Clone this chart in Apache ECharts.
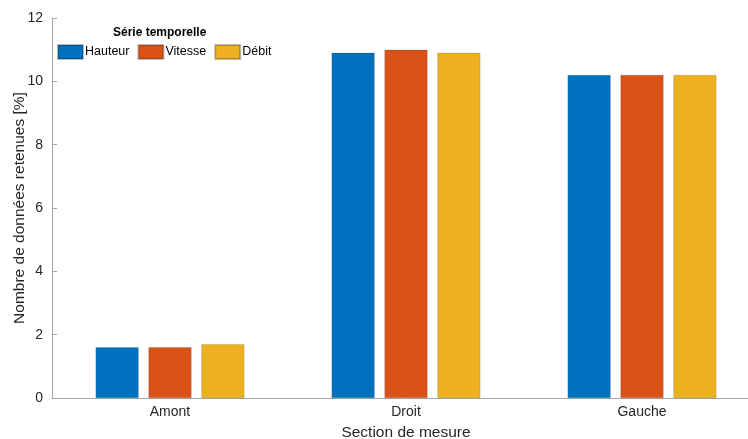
<!DOCTYPE html>
<html><head><meta charset="utf-8">
<script src="https://cdn.jsdelivr.net/npm/echarts@6/dist/echarts.min.js"></script>
<style>html,body{margin:0;padding:0;background:#fff}#c{width:748px;height:439px}</style>
</head><body><div id="c"></div>
<script>
const categories = ['Amont', 'Droit', 'Gauche'];
const seriesNames = ['Hauteur', 'Vitesse', 'Débit'];
const hauteur = [1.6, 10.9, 10.2];
const vitesse = [1.6, 11.0, 10.2];
const debit = [1.7, 10.9, 10.2];
const yTicks = [0, 2, 4, 6, 8, 10, 12];
const colors = ['#0072BD', '#D95319', '#EDB120'];
const values = [hauteur, vitesse, debit];
const font = "'Liberation Sans', Arial, sans-serif";

const chart = echarts.init(document.getElementById('c'));
chart.setOption({
  animation: false,
  textStyle: { fontFamily: font },
  title: {
    text: 'Série temporelle', left: 113, top: 27, padding: 0,
    textStyle: { fontFamily: font, fontSize: 12, fontWeight: 'bold', color: '#000' }
  },
  legend: {
    data: seriesNames, left: 57, top: 44, orient: 'horizontal', padding: 0,
    itemWidth: 25, itemHeight: 14, itemGap: 8,
    icon: 'rect',
    textStyle: { fontFamily: font, fontSize: 12.5, color: '#000', padding: [0, 0, 0, -3] }
  },
  grid: { left: 52, right: -12, top: 18, bottom: 41, outerBoundsMode: 'none', containLabel: false },
  xAxis: {
    type: 'category', data: categories,
    name: 'Section de mesure', nameLocation: 'middle', nameGap: 27, nameMoveOverlap: false,
    nameTextStyle: { fontSize: 15.5, color: '#262626', fontFamily: font },
    axisLine: { lineStyle: { color: '#a6a6a6' } },
    axisTick: { inside: true, alignWithLabel: true, length: 5, lineStyle: { color: '#a6a6a6' } },
    axisLabel: { fontSize: 14, color: '#262626', margin: 7, fontFamily: font }
  },
  yAxis: {
    type: 'value', min: yTicks[0], max: yTicks[yTicks.length - 1], interval: 2,
    name: 'Nombre de données retenues [%]', nameLocation: 'middle', nameGap: 24, nameMoveOverlap: false,
    nameTextStyle: { fontSize: 15.5, color: '#262626', fontFamily: font },
    axisLine: { show: true, lineStyle: { color: '#a6a6a6' } },
    axisTick: { show: true, inside: true, length: 5, lineStyle: { color: '#a6a6a6' } },
    splitLine: { show: false },
    axisLabel: { fontSize: 14, color: '#262626', margin: 9, fontFamily: font }
  },
  series: seriesNames.map((n, i) => ({
    name: n, type: 'bar', data: values[i],
    barWidth: 43, barGap: '23%',
    itemStyle: { color: colors[i], borderColor: 'rgba(0,0,0,0.25)', borderWidth: 0.5 }
  }))
});
</script></body></html>
